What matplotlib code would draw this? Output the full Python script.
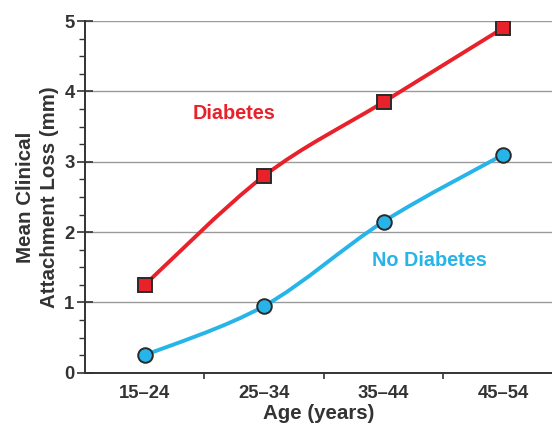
import numpy as np
import matplotlib
matplotlib.use("Agg")
import matplotlib.pyplot as plt
from matplotlib.path import Path
from matplotlib.patches import PathPatch
from matplotlib.ticker import MultipleLocator, FixedLocator

plt.rcParams['font.family'] = ['Liberation Sans', 'DejaVu Sans']
plt.rcParams['font.weight'] = 'bold'

age_groups = ["15\u201324", "25\u201334", "35\u201344", "45\u201354"]
diabetes = [1.25, 2.8, 3.85, 4.9]
no_diabetes = [0.25, 0.95, 2.15, 3.1]

RED = "#e8212b"
BLUE = "#27b4e8"
EDGE = "#2a2a2a"


def smooth_path(xs, ys, t=1.0 / 6):
    # Catmull-Rom style bezier through the points
    pts = np.column_stack([xs, ys]).astype(float)
    n = len(pts)
    verts = [pts[0]]
    codes = [Path.MOVETO]
    for i in range(n - 1):
        p0 = pts[i - 1] if i > 0 else pts[i]
        p1 = pts[i]
        p2 = pts[i + 1]
        p3 = pts[i + 2] if i + 2 < n else pts[i + 1]
        c1 = p1 + (p2 - p0) * t
        c2 = p2 - (p3 - p1) * t
        verts += [c1, c2, p2]
        codes += [Path.CURVE4] * 3
    return Path(verts, codes)


fig = plt.figure(figsize=(5.52, 4.30), dpi=100)
ax = fig.add_axes([0.154, 0.133, 0.846, 0.818])

x = np.arange(len(age_groups))

for vals, col in [(diabetes, RED), (no_diabetes, BLUE)]:
    patch = PathPatch(smooth_path(x, vals), facecolor="none", edgecolor=col,
                      lw=2.8, zorder=3, capstyle="round")
    ax.add_patch(patch)

ax.plot(x, diabetes, ls="none", marker="s", ms=10.5, mfc=RED, mec=EDGE,
        mew=1.4, zorder=4)
ax.plot(x, no_diabetes, ls="none", marker="o", ms=10.5, mfc=BLUE, mec=EDGE,
        mew=1.4, zorder=4)

ax.text(0.75, 3.69, "Diabetes", color=RED, fontsize=14.3, fontweight="bold",
        ha="center", va="center")
ax.text(2.38, 1.6, "No Diabetes", color=BLUE, fontsize=14.3, fontweight="bold",
        ha="center", va="center")

ax.set_xlim(-0.5, 3.41)
ax.set_ylim(0, 5)

ax.yaxis.set_major_locator(MultipleLocator(1))
ax.yaxis.set_minor_locator(MultipleLocator(0.25))
ax.grid(axis="y", which="major", color="#9a9a9a", lw=1.0, zorder=1)

ax.set_xticks(x)
ax.set_xticklabels(age_groups)
ax.xaxis.set_minor_locator(FixedLocator([0.5, 1.5, 2.5]))
ax.tick_params(axis="x", which="major", length=0, pad=9, labelsize=13.3,
               labelcolor="#333333")
ax.tick_params(axis="x", which="minor", length=4, width=1.2, direction="out",
               color="#333333")
ax.tick_params(axis="y", which="major", length=11, width=1.2,
               direction="inout", pad=2, labelsize=13.3, labelcolor="#333333",
               color="#333333")
ax.tick_params(axis="y", which="minor", length=4, width=1.0, direction="out",
               color="#333333")

for lab in ax.get_xticklabels() + ax.get_yticklabels():
    lab.set_fontweight("bold")

for s in ["top", "right"]:
    ax.spines[s].set_visible(False)
for s in ["left", "bottom"]:
    ax.spines[s].set_color("#333333")
    ax.spines[s].set_linewidth(1.4)

ax.set_xlabel("Age (years)", fontsize=14.8, fontweight="bold", color="#333333",
              labelpad=1)
ax.set_ylabel("Mean Clinical\nAttachment Loss (mm)", fontsize=14.8,
              fontweight="bold", color="#333333", labelpad=4,
              linespacing=1.3)

fig.savefig("out.png", dpi=100)
